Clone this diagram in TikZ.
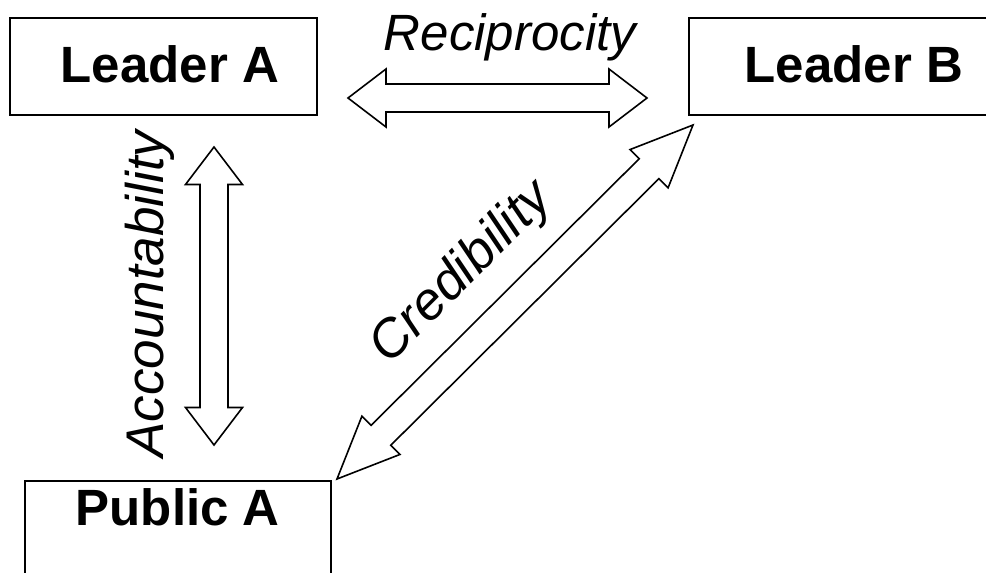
\documentclass[tikz,border=0pt]{standalone}
\usepackage{fontspec}
\setmainfont{Liberation Sans}
\usetikzlibrary{calc}
\newcommand{\fatarrow}[5]{%
  \coordinate (#1h) at ($(#1)!#3!(#2)$);
  \coordinate (#2h) at ($(#2)!#3!(#1)$);
  \draw[arr] (#1) -- ($(#1h)!#4!90:(#2)$) -- ($(#1h)!#5!90:(#2)$)
    -- ($(#2h)!#5!-90:(#1)$) -- ($(#2h)!#4!-90:(#1)$) -- (#2)
    -- ($(#2h)!#4!90:(#1)$) -- ($(#2h)!#5!90:(#1)$)
    -- ($(#1h)!#5!-90:(#2)$) -- ($(#1h)!#4!-90:(#2)$) -- cycle;}
\begin{document}
\begin{tikzpicture}[x=1pt,y=-1pt,
  box/.style={draw, line width=1.6pt, inner sep=0pt, anchor=north west,
    font=\bfseries\fontsize{51}{51}\selectfont},
  lab/.style={inner sep=0pt, anchor=base, font=\itshape\fontsize{53}{53}\selectfont},
  arr/.style={draw, line width=1.6pt, line join=miter, fill=white}]
\useasboundingbox (0,0) rectangle (986,573);
\begin{scope}
\clip (0,0) rectangle (986,573);
\node[box, minimum width=307pt, text height=65pt, text depth=32pt] (LA) at (9,17) {\hspace*{13pt}Leader A};
\node[box, minimum width=330pt, text height=65pt, text depth=32pt] (LB) at (688,17) {Leader B};
\node[box, minimum width=306pt, text height=45pt, text depth=60pt] (PA) at (24,480) {Public A};
\end{scope}
% arrow end points
\coordinate (rl) at (348,98);
\coordinate (rr) at (647,98);
\coordinate (at) at (214,147);
\coordinate (ab) at (214,445);
\coordinate (ct) at (693,125);
\coordinate (cb) at (337,479);
\fatarrow{rl}{rr}{38pt}{29pt}{14pt}
\fatarrow{at}{ab}{37.5pt}{28.5pt}{14pt}
\fatarrow{ct}{cb}{62pt}{27pt}{14pt}
% labels
\node[lab, font=\itshape\fontsize{51}{51}\selectfont] (rec) at (510,50) {Reciprocity};
\node[lab, rotate=90] (acc) at (163,294) {Accountability};
\node[lab, rotate=45] (cre) at (472,283) {Credibility};
\end{tikzpicture}
\end{document}
